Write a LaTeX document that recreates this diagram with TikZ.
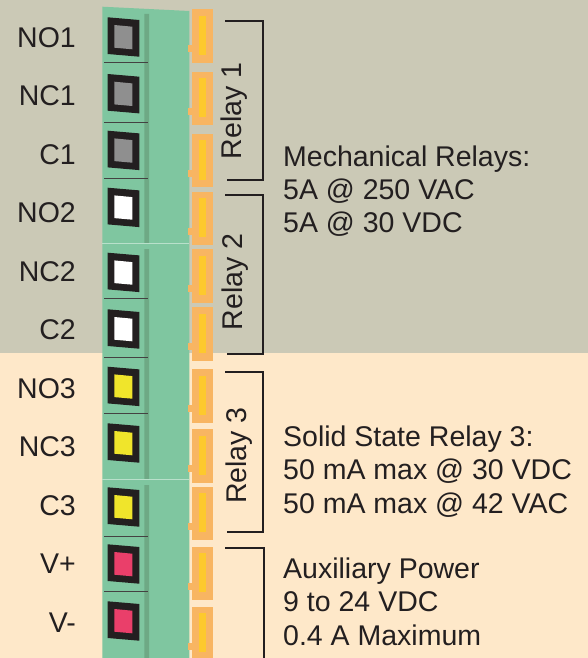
\documentclass[tikz,border=0pt]{standalone}
\usepackage{fontspec}
\setmainfont{Liberation Sans}
\definecolor{fondgris}{HTML}{CBC9B6}
\definecolor{fondcreme}{HTML}{FEE8C9}
\definecolor{vert}{HTML}{7FC6A0}
\definecolor{vertfonce}{HTML}{6EA985}
\definecolor{broche}{HTML}{F8B562}
\definecolor{brochejaune}{HTML}{FDC92D}
\definecolor{encre}{HTML}{231F20}
\definecolor{visgris}{HTML}{8F8F8F}
\definecolor{visjaune}{HTML}{F0E52B}
\definecolor{visrouge}{HTML}{EA3F6A}
\tikzset{
  texte/.style={font=\fontsize{28.5}{34}\selectfont, text=encre, inner sep=0pt},
  crochet/.style={draw=encre, line width=2pt},
}
\begin{document}
\begin{tikzpicture}[x=1pt,y=-1pt]
            \def\cadre{(0,0) -- (31.6,2.7) -- (31.6,39.4) -- (0,36.7) -- cycle}
            \def\vis{(6.6,7.7) -- (24.6,9.4) -- (24.6,32) -- (6.6,30.4) -- cycle}
            \useasboundingbox (0,0) rectangle (588,658);
            \fill [fondgris](0,0) rectangle (588,353);
            \fill [fondcreme](0,353) rectangle (588,658);
            % bornier
            \fill [vert](102.3,6.7) -- (189.3,11) -- (189.3,658) -- (102.3,658) -- cycle;
            \fill [vertfonce](144.3,14) rectangle (149,243) (144.3,249) rectangle (149,479) (144.3,485) rectangle (149,658);
            \draw [vert!55!white, line width=0.6pt](102.3,243) -- (189.3,243) (102.3,479) -- (189.3,479);
            \foreach \y in {62.7,122.7,178.3,298.3,357.7,413.3,536,591}
                \draw [encre!85, line width=1pt](104,\y) -- (147.7,\y);
            \foreach \y/\c in {17.3/visgris,74/visgris,130.7/visgris,187.7/white,252.7/white,309.3/white,366.7/visjaune,423.3/visjaune,487.3/visjaune,544.3/visrouge,601.3/visrouge}{
                \fill [encre, shift={(107.7,\y)}]\cadre;
                \fill [\c, shift={(107.7,\y)}]\vis;
            }
            % broches
            \foreach \y in {9.3,71.7,134,191.7,249.3,307.3,369.3,429.3,486.7,546.7,606.7}{
                \fill [broche](192,\y) rectangle (213,\y+53.4);
                \fill [broche](188,\y+36) rectangle (192,\y+43);
                \fill [brochejaune](199,\y+6.4) rectangle (206,\y+45.7);
            }
            \foreach \nom [count=\i from 0] in {NO1,NC1,C1,NO2,NC2,C2,NO3,NC3,C3,V+,V-}
                \node [texte, anchor=base east] (borne\i) at (76,47.3+58.5*\i) {\nom};
            % relais
            \draw [crochet](225,21) -- (263,21) -- (263,180) -- (227,180);
            \draw [crochet](225,195) -- (263,195) -- (263,354) -- (227,354);
            \draw [crochet](225,372.3) -- (263,372.3) -- (263,531.7) -- (227,531.7);
            \draw [crochet](225,548) -- (264,548) -- (264,662);
            \node [texte, rotate=90, anchor=base] (relais1) at (241.7,111) {Relay 1};
            \node [texte, rotate=90, anchor=base] (relais2) at (242.5,282) {Relay 2};
            \node [texte, rotate=90, anchor=base] (relais3) at (246.7,455.5) {Relay 3};
            \node [texte, anchor=base west] (meca1) at (283,166) {Mechanical Relays:};
            \node [texte, anchor=base west] (meca2) at (283,199) {5A @ 250 VAC};
            \node [texte, anchor=base west] (meca3) at (283,232) {5A @ 30 VDC};
            \node [texte, anchor=base west] (ssr1) at (283,446) {Solid State Relay 3:};
            \node [texte, anchor=base west] (ssr2) at (283,479.5) {50 mA max @ 30 VDC};
            \node [texte, anchor=base west] (ssr3) at (283,513) {50 mA max @ 42 VAC};
            \node [texte, anchor=base west] (aux1) at (283,578) {Auxiliary Power};
            \node [texte, anchor=base west] (aux2) at (283,611.5) {9 to 24 VDC};
            \node [texte, anchor=base west] (aux3) at (283,645) {0.4 A Maximum};
        \end{tikzpicture}
\end{document}
